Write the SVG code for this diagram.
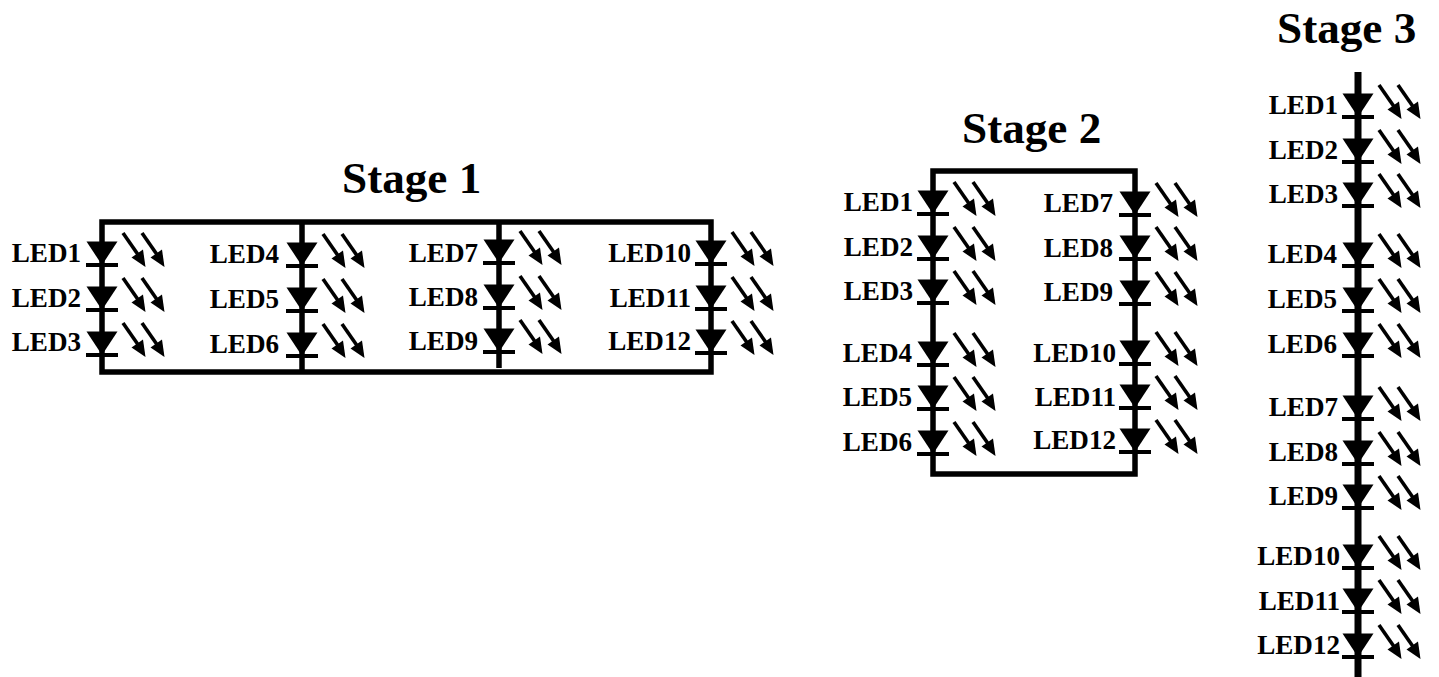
<svg xmlns="http://www.w3.org/2000/svg" width="1439" height="677" viewBox="0 0 1439 677">
<style>
text{font-family:"Liberation Serif","Times New Roman",serif;font-weight:bold;fill:#000}
.t{font-size:45.2px}
.l{font-size:27.1px;text-anchor:end}
.w{fill:none;stroke:#000;stroke-width:5.5}
.b,.a{stroke:#000;fill:none}
.b{stroke-width:4}
.a{stroke-width:3.6}
</style>
<defs>
<g id="d">
<polygon points="-15.5,-0.5 15.5,-0.5 0,23"/>
<line class="b" x1="-16" y1="23" x2="16" y2="23"/>
<line class="a" x1="21" y1="-9" x2="37" y2="14"/>
<polygon points="43.5,25 41,7.5 29.5,15.5"/>
<line class="a" x1="40" y1="-9" x2="56" y2="14"/>
<polygon points="62.5,25 60,7.5 48.5,15.5"/>
</g>
</defs>
<rect width="1439" height="677" fill="#fff"/>
<g id="connectors">
<rect class="w" x="102" y="222" width="609" height="150"/>
<path class="w" d="M302 222V372M499 222V368"/>
<rect class="w" x="933" y="171" width="202" height="303"/>
<path class="w" d="M1358 72V677" style="stroke-width:7"/>
</g>
<g id="titles">
<text class="t" x="342" y="193">Stage 1</text>
<text class="t" x="962" y="143">Stage 2</text>
<text class="t" x="1277" y="43">Stage 3</text>
</g>
<g id="stage1">
<g id="s1-led1"><use href="#d" x="102" y="242"/><text class="l" x="81" y="262">LED1</text></g>
<g id="s1-led2"><use href="#d" x="102" y="287"/><text class="l" x="81" y="307">LED2</text></g>
<g id="s1-led3"><use href="#d" x="102" y="332"/><text class="l" x="81" y="351">LED3</text></g>
<g id="s1-led4"><use href="#d" x="302" y="243"/><text class="l" x="279" y="263">LED4</text></g>
<g id="s1-led5"><use href="#d" x="302" y="288"/><text class="l" x="279" y="308">LED5</text></g>
<g id="s1-led6"><use href="#d" x="302" y="333"/><text class="l" x="279" y="353">LED6</text></g>
<g id="s1-led7"><use href="#d" x="499" y="240"/><text class="l" x="478" y="262">LED7</text></g>
<g id="s1-led8"><use href="#d" x="499" y="285"/><text class="l" x="478" y="306">LED8</text></g>
<g id="s1-led9"><use href="#d" x="499" y="329"/><text class="l" x="478" y="350">LED9</text></g>
<g id="s1-led10"><use href="#d" x="711" y="241"/><text class="l" x="691" y="262">LED10</text></g>
<g id="s1-led11"><use href="#d" x="711" y="286"/><text class="l" x="691" y="307">LED11</text></g>
<g id="s1-led12"><use href="#d" x="711" y="330"/><text class="l" x="691" y="350">LED12</text></g>
</g>
<g id="stage2">
<g id="s2-led1"><use href="#d" x="933" y="191"/><text class="l" x="913" y="211">LED1</text></g>
<g id="s2-led2"><use href="#d" x="933" y="236"/><text class="l" x="913" y="256">LED2</text></g>
<g id="s2-led3"><use href="#d" x="933" y="280"/><text class="l" x="913" y="300">LED3</text></g>
<g id="s2-led4"><use href="#d" x="933" y="342"/><text class="l" x="912" y="362">LED4</text></g>
<g id="s2-led5"><use href="#d" x="933" y="386"/><text class="l" x="912" y="406">LED5</text></g>
<g id="s2-led6"><use href="#d" x="933" y="431"/><text class="l" x="912" y="451">LED6</text></g>
<g id="s2-led7"><use href="#d" x="1135" y="192"/><text class="l" x="1113" y="212">LED7</text></g>
<g id="s2-led8"><use href="#d" x="1135" y="236"/><text class="l" x="1113" y="257">LED8</text></g>
<g id="s2-led9"><use href="#d" x="1135" y="281"/><text class="l" x="1113" y="301">LED9</text></g>
<g id="s2-led10"><use href="#d" x="1135" y="341"/><text class="l" x="1116" y="362">LED10</text></g>
<g id="s2-led11"><use href="#d" x="1135" y="385"/><text class="l" x="1116" y="406">LED11</text></g>
<g id="s2-led12"><use href="#d" x="1135" y="429"/><text class="l" x="1116" y="449">LED12</text></g>
</g>
<g id="stage3">
<g id="s3-led1"><use href="#d" x="1358" y="94"/><text class="l" x="1338" y="114">LED1</text></g>
<g id="s3-led2"><use href="#d" x="1358" y="139"/><text class="l" x="1338" y="159">LED2</text></g>
<g id="s3-led3"><use href="#d" x="1358" y="183"/><text class="l" x="1338" y="203">LED3</text></g>
<g id="s3-led4"><use href="#d" x="1358" y="243"/><text class="l" x="1337" y="263">LED4</text></g>
<g id="s3-led5"><use href="#d" x="1358" y="288"/><text class="l" x="1337" y="308">LED5</text></g>
<g id="s3-led6"><use href="#d" x="1358" y="333"/><text class="l" x="1337" y="353">LED6</text></g>
<g id="s3-led7"><use href="#d" x="1358" y="396"/><text class="l" x="1338" y="416">LED7</text></g>
<g id="s3-led8"><use href="#d" x="1358" y="441"/><text class="l" x="1338" y="461">LED8</text></g>
<g id="s3-led9"><use href="#d" x="1358" y="485"/><text class="l" x="1338" y="505">LED9</text></g>
<g id="s3-led10"><use href="#d" x="1358" y="545"/><text class="l" x="1340" y="565">LED10</text></g>
<g id="s3-led11"><use href="#d" x="1358" y="589"/><text class="l" x="1340" y="610">LED11</text></g>
<g id="s3-led12"><use href="#d" x="1358" y="634"/><text class="l" x="1340" y="654">LED12</text></g>
</g>
</svg>
